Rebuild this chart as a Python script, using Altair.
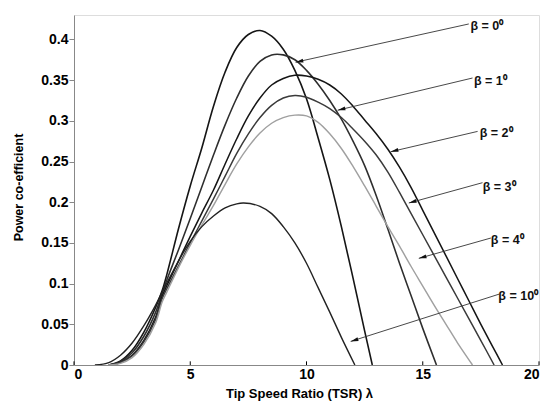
import math
import altair as alt
import pandas as pd

# ---- data ----
beta_names = ["0", "1", "2", "3", "4", "10"]

lam_b0 = [1.5, 2.0, 2.5, 3.0, 3.5, 3.8, 4.0, 4.5, 5.0, 5.5, 6.0, 6.5, 7.0, 7.5, 8.0,
          8.5, 9.0, 9.5, 10.0, 10.5, 11.0, 11.5, 12.0, 12.5, 12.83]
cp_b0 = [0, 0.005, 0.018, 0.04, 0.07, 0.092, 0.112, 0.168, 0.22, 0.267, 0.318, 0.36, 0.39,
         0.406, 0.411, 0.404, 0.388, 0.362, 0.327, 0.279, 0.228, 0.17, 0.107, 0.042, 0]

lam_b1 = [1.5, 2.0, 2.5, 3.0, 3.5, 3.8, 4.0, 4.5, 5.0, 5.5, 6.0, 6.5, 7.0, 7.5, 8.0,
          8.5, 9.0, 9.5, 10.0, 10.5, 11.0, 11.5, 12.0, 12.5, 13.0, 13.5, 14.0, 14.5,
          15.0, 15.59]
cp_b1 = [0, 0.004, 0.015, 0.035, 0.064, 0.089, 0.105, 0.142, 0.18, 0.219, 0.258, 0.295,
         0.328, 0.355, 0.373, 0.381, 0.381, 0.375, 0.362, 0.345, 0.325, 0.302, 0.275,
         0.245, 0.208, 0.167, 0.125, 0.085, 0.045, 0]

lam_b2 = [1.5, 2.0, 2.5, 3.0, 3.5, 3.8, 4.0, 4.5, 5.0, 5.5, 6.0, 6.5, 7.0, 7.5, 8.0,
          8.5, 9.0, 9.5, 10.0, 10.5, 11.0, 11.5, 12.0, 12.5, 13.0, 13.5, 14.0, 14.5,
          15.0, 15.5, 16.0, 16.5, 17.0, 17.5, 18.0, 18.43]
cp_b2 = [0, 0.003, 0.012, 0.03, 0.058, 0.085, 0.098, 0.128, 0.158, 0.187, 0.215, 0.247,
         0.278, 0.306, 0.328, 0.344, 0.352, 0.356, 0.355, 0.351, 0.344, 0.333, 0.318,
         0.301, 0.284, 0.265, 0.243, 0.218, 0.19, 0.162, 0.134, 0.106, 0.078, 0.05,
         0.023, 0]

lam_b3 = [1.5, 2.0, 2.5, 3.0, 3.5, 3.8, 4.0, 4.5, 5.0, 5.5, 6.0, 6.5, 7.0, 7.5, 8.0,
          8.5, 9.0, 9.5, 10.0, 10.5, 11.0, 11.5, 12.0, 12.5, 13.0, 13.5, 14.0, 14.5,
          15.0, 15.5, 16.0, 16.5, 17.0, 17.5, 18.07]
cp_b3 = [0, 0.003, 0.011, 0.028, 0.055, 0.082, 0.094, 0.122, 0.15, 0.177, 0.204, 0.232,
         0.26, 0.284, 0.304, 0.319, 0.328, 0.331, 0.329, 0.323, 0.315, 0.304, 0.29,
         0.275, 0.258, 0.237, 0.212, 0.186, 0.16, 0.134, 0.108, 0.082, 0.056, 0.03, 0]

lam_b4 = [1.5, 2.0, 2.5, 3.0, 3.5, 3.8, 4.0, 4.5, 5.0, 5.5, 6.0, 6.5, 7.0, 7.5, 8.0,
          8.5, 9.0, 9.5, 10.0, 10.5, 11.0, 11.5, 12.0, 12.5, 13.0, 13.5, 14.0, 14.5,
          15.0, 15.5, 16.0, 16.5, 17.14]
cp_b4 = [0, 0.002, 0.009, 0.025, 0.051, 0.078, 0.09, 0.12, 0.147, 0.172, 0.196, 0.222,
         0.247, 0.268, 0.285, 0.297, 0.304, 0.307, 0.306, 0.298, 0.284, 0.266, 0.244,
         0.22, 0.195, 0.17, 0.146, 0.121, 0.097, 0.073, 0.05, 0.027, 0]

lam_b10 = [0.9, 1.5, 2.0, 2.5, 3.0, 3.5, 3.8, 4.0, 4.5, 5.0, 5.5, 6.0, 6.5, 7.0, 7.3,
           8.0, 8.5, 9.0, 9.5, 10.0, 10.5, 11.0, 11.5, 12.08]
cp_b10 = [0, 0.003, 0.012, 0.027, 0.048, 0.073, 0.09, 0.101, 0.128, 0.152, 0.17, 0.183,
          0.193, 0.198, 0.199, 0.195, 0.186, 0.17, 0.15, 0.125, 0.095, 0.065, 0.034, 0]

# annotation arrows: label start -> tip (data coordinates)
label_texts = ["β = 0⁰", "β = 1⁰", "β = 2⁰", "β = 3⁰", "β = 4⁰", "β = 10⁰"]
arrow_x0 = [16.98, 17.14, 17.36, 17.57, 17.93, 18.28]
arrow_y0 = [0.419, 0.3526, 0.287, 0.224, 0.156, 0.087]
arrow_x1 = [9.53, 11.34, 13.62, 14.40, 14.83, 11.90]
arrow_y1 = [0.372, 0.313, 0.262, 0.199, 0.131, 0.029]
label_x = [17.05, 17.2, 17.45, 17.58, 17.93, 18.25]
label_y = [0.4165, 0.349, 0.285, 0.219, 0.153, 0.085]

x_ticks = [0, 5, 10, 15, 20]
y_ticks = [0, 0.05, 0.1, 0.15, 0.2, 0.25, 0.3, 0.35, 0.4]

# ---- build tables ----
series = [(lam_b0, cp_b0), (lam_b1, cp_b1), (lam_b2, cp_b2),
          (lam_b3, cp_b3), (lam_b4, cp_b4), (lam_b10, cp_b10)]
rows = []
for name, (ls, cs) in zip(beta_names, series):
    for i, (l, c) in enumerate(zip(ls, cs)):
        rows.append({"beta": name, "lam": l, "cp": c, "order": i})
df = pd.DataFrame(rows)

PX_X = 465 / 20.0
PX_Y = 350 / 0.43
angles = []
for x0, y0, x1, y1 in zip(arrow_x0, arrow_y0, arrow_x1, arrow_y1):
    dx = (x1 - x0) * PX_X
    dy = -(y1 - y0) * PX_Y
    ang = math.degrees(math.atan2(-dx, dy))
    angles.append((ang + 180) % 360)
arr = pd.DataFrame({"x0": arrow_x0, "y0": arrow_y0, "x1": arrow_x1, "y1": arrow_y1,
                    "ang": angles, "lx": label_x, "ly": label_y, "txt": label_texts})

FONT = "Liberation Sans"
xs = alt.Scale(domain=[0, 20], nice=False)
ys = alt.Scale(domain=[0, 0.43], nice=False)

colors = ["#151515", "#2e2e2e", "#151515", "#3a3a3a", "#a0a0a0", "#222222"]
widths = [1.6, 1.4, 1.7, 1.4, 1.4, 1.4]

lines = alt.Chart(df).mark_line(interpolate="catmull-rom", clip=True).encode(
    x=alt.X("lam:Q", scale=xs,
            axis=alt.Axis(values=x_ticks, format="d", ticks=False, grid=False,
                          title="Tip Speed Ratio (TSR) λ", labelPadding=2,
                          labelFont=FONT, labelFontWeight="bold", labelFontSize=14,
                          titleFont=FONT, titleFontWeight="bold", titleFontSize=13,
                          titleX=225, titleY=28, titleBaseline="middle")),
    y=alt.Y("cp:Q", scale=ys,
            axis=alt.Axis(values=y_ticks, format=".2~f", tickSize=5, grid=False,
                          title="Power co-efficient", labelPadding=1,
                          labelFont=FONT, labelFontWeight="bold", labelFontSize=14,
                          titleFont=FONT, titleFontWeight="bold", titleFontSize=12.5,
                          titleX=-56, titleY=172, titleBaseline="middle")),
    color=alt.Color("beta:N", scale=alt.Scale(domain=beta_names, range=colors), legend=None),
    strokeWidth=alt.StrokeWidth("beta:N", scale=alt.Scale(domain=beta_names, range=widths),
                                legend=None),
    order="order:Q",
)

tick_df = pd.DataFrame({"t": x_ticks, "y0": [0] * len(x_ticks), "y1": [0.0045] * len(x_ticks)})
xticks = alt.Chart(tick_df).mark_rule(color="#000", strokeWidth=1).encode(
    x=alt.X("t:Q", scale=xs), y=alt.Y("y0:Q", scale=ys), y2="y1:Q")

arrow_lines = alt.Chart(arr).mark_rule(color="#333", strokeWidth=0.9).encode(
    x=alt.X("x0:Q", scale=xs), y=alt.Y("y0:Q", scale=ys), x2="x1:Q", y2="y1:Q")

heads = alt.Chart(arr).mark_point(shape="M0,0L0.5,2L-0.5,2Z", filled=True, size=60,
                                  color="#111", opacity=1).encode(
    x=alt.X("x1:Q", scale=xs), y=alt.Y("y1:Q", scale=ys), angle=alt.Angle("ang:Q", scale=None))

labels = alt.Chart(arr).mark_text(align="left", baseline="middle", font=FONT,
                                  fontWeight="bold", fontSize=12.5, color="#111").encode(
    x=alt.X("lx:Q", scale=xs), y=alt.Y("ly:Q", scale=ys), text="txt:N")

chart = alt.layer(lines, xticks, arrow_lines, heads, labels).properties(
    width=465, height=350,
    autosize=alt.AutoSizeParams(type="none"),
    padding={"left": 74, "top": 15, "right": 8, "bottom": 36},
).configure_view(stroke=None).configure_axis(
    domainColor="#000", domainWidth=1, tickColor="#000", labelColor="#111",
    titleColor="#111",
).configure(background="white")

chart.save("out.html", embed_options={"renderer": "svg", "actions": False})
